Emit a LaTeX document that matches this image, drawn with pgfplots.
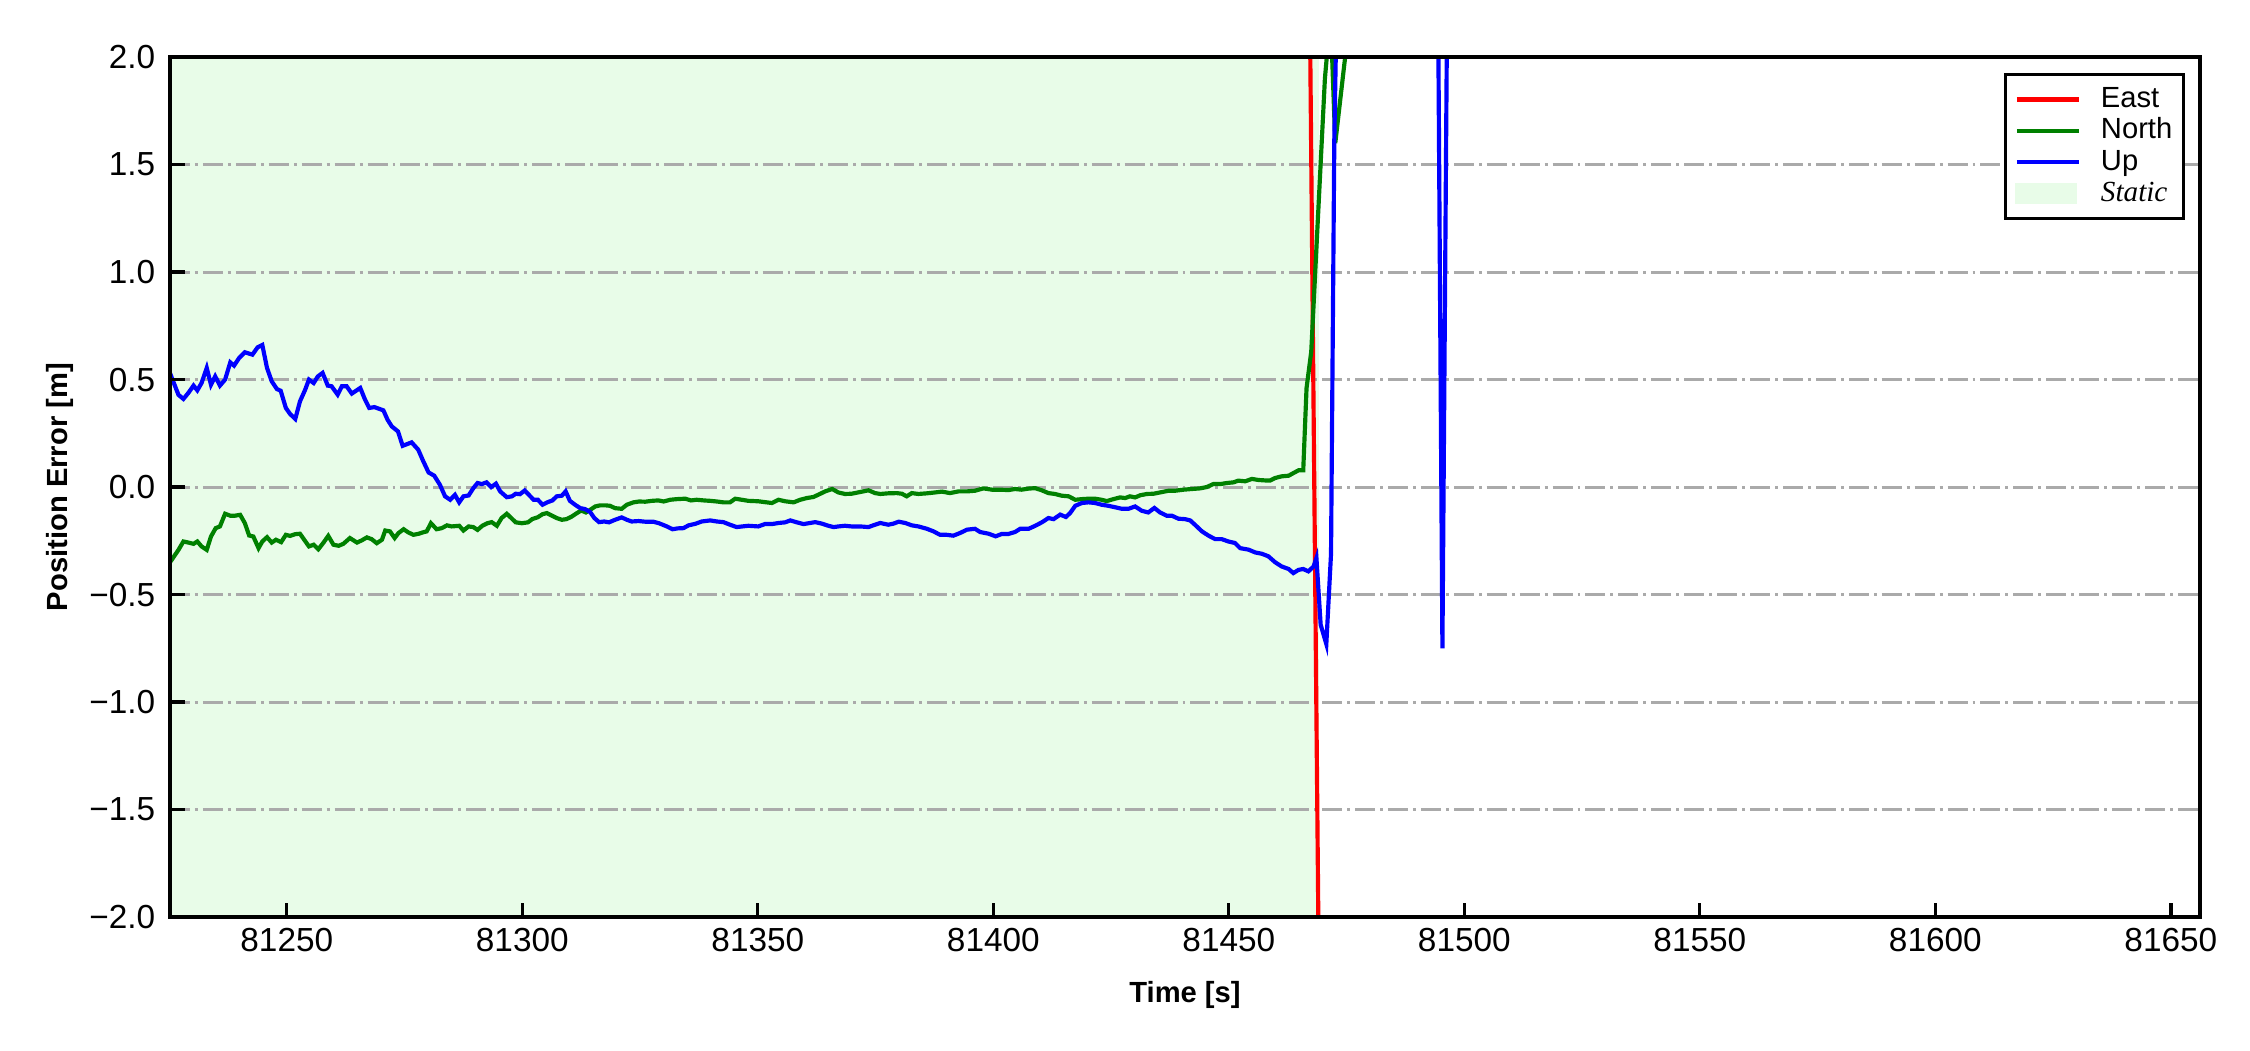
\documentclass[border=0pt]{standalone}
\usepackage{pgfplots}
\pgfplotsset{compat=1.18}
\usepackage{fontspec}
\setmainfont{Liberation Sans}
\newfontfamily\timesfont{Liberation Serif}
\definecolor{staticgreen}{RGB}{232,252,232}
\definecolor{gridgray}{RGB}{170,170,170}
\definecolor{mplgreen}{RGB}{0,128,0}
\definecolor{mplred}{RGB}{255,0,0}
\definecolor{mplblue}{RGB}{0,0,255}
\begin{document}
\begin{tikzpicture}
\useasboundingbox (-40.8pt,-31.9pt) rectangle (499.2pt,220.1pt);
\begin{axis}[
  at={(0pt,0pt)}, anchor=south west,
  scale only axis, width=487.2pt, height=206.4pt,
  xmin=81225.2, xmax=81656.2, ymin=-2, ymax=2,
  axis on top,
  axis line style={line width=0.8pt, black},
  tick align=inside, xtick pos=bottom, ytick pos=left,
  major tick length=3.5pt,
  tick style={black, line width=0.8pt},
  scaled ticks=false,
  xtick={81250,81300,81350,81400,81450,81500,81550,81600,81650},
  xticklabels={81250,81300,81350,81400,81450,81500,81550,81600,81650},
  ytick={-2,-1.5,-1,-0.5,0,0.5,1,1.5,2},
  yticklabels={−2.0,−1.5,−1.0,−0.5,0.0,0.5,1.0,1.5,2.0},
  ticklabel style={font=\fontsize{8}{9.6}\selectfont},
  xticklabel style={yshift=0.9pt},
  yticklabel style={xshift=0pt},
  xlabel={Time [s]}, ylabel={Position Error [m]},
  label style={font=\fontsize{7}{8.4}\selectfont\bfseries},
  xlabel style={at={(axis description cs:0.5,-0.0901)}, anchor=center},
  ylabel style={at={(axis description cs:-0.0544,0.5)}, anchor=center},
  legend style={at={(axis description cs:0.9926,0.9816)}, anchor=north east,
    draw=black, line width=0.7pt, fill=white, inner xsep=2.2pt, inner ysep=2.3pt,
    row sep=0pt, column sep=4.2pt, font=\fontsize{7}{8}\selectfont,
    nodes={inner sep=0.5pt, text height=5.2pt, text depth=1.3pt}},
  legend cell align=left,
  legend image code/.code={\draw[#1, line width=1pt] (0pt,0pt) -- (15pt,0pt);},
  gridline/.style={gridgray, line width=0.7pt, dash pattern=on 4.8pt off 1.2pt on 0.7pt off 1.2pt, forget plot},
]
\addplot[fill=staticgreen, draw=none, forget plot]
  coordinates {(81225.2,-2) (81469.1,-2) (81469.1,2) (81225.2,2)};
\addplot[gridline] coordinates {(81225.2,-1.5) (81656.2,-1.5)};
\addplot[gridline] coordinates {(81225.2,-1.0) (81656.2,-1.0)};
\addplot[gridline] coordinates {(81225.2,-0.5) (81656.2,-0.5)};
\addplot[gridline] coordinates {(81225.2,0.0) (81656.2,0.0)};
\addplot[gridline] coordinates {(81225.2,0.5) (81656.2,0.5)};
\addplot[gridline] coordinates {(81225.2,1.0) (81656.2,1.0)};
\addplot[gridline] coordinates {(81225.2,1.5) (81656.2,1.5)};

\addplot[mplred, line width=1pt] coordinates {
(81225.2,4) (81466.45,4) (81469.85,-4) (81656.2,-4)};
\addlegendentry{East}

\addplot[mplgreen, line width=1pt] coordinates {
(81225.2,-0.35) (81227.0,-0.292) (81228.05,-0.253) (81229.1,-0.258) (81230.2,-0.264)
(81231.0,-0.253) (81231.9,-0.276) (81233.0,-0.292) (81233.9,-0.230) (81234.9,-0.191)
(81235.8,-0.183) (81236.9,-0.124) (81238.0,-0.133) (81239.0,-0.133) (81240.1,-0.129)
(81241.1,-0.168) (81242.0,-0.225) (81242.9,-0.230) (81244.0,-0.284) (81244.8,-0.253)
(81245.8,-0.233) (81246.8,-0.258) (81247.7,-0.245) (81248.8,-0.256) (81249.8,-0.222)
(81250.7,-0.227) (81251.8,-0.219) (81252.8,-0.217) (81253.7,-0.245) (81254.7,-0.276)
(81255.7,-0.268) (81256.7,-0.289) (81257.8,-0.258) (81258.8,-0.227) (81259.9,-0.268)
(81261.0,-0.273) (81262.0,-0.264) (81263.4,-0.237) (81264.9,-0.258) (81265.9,-0.248)
(81267.0,-0.234) (81268.0,-0.242) (81269.1,-0.261) (81270.2,-0.245) (81270.9,-0.202)
(81271.9,-0.206) (81272.9,-0.237) (81273.7,-0.214) (81274.8,-0.196) (81275.8,-0.211)
(81276.9,-0.222) (81278.0,-0.217) (81279.0,-0.210) (81279.7,-0.206) (81280.6,-0.168)
(81281.8,-0.196) (81282.9,-0.191) (81284.0,-0.178) (81285.0,-0.183) (81286.6,-0.180)
(81287.5,-0.202) (81288.6,-0.183) (81289.6,-0.186) (81290.5,-0.199) (81291.5,-0.180)
(81292.6,-0.168) (81293.5,-0.163) (81294.6,-0.180) (81295.6,-0.144) (81296.7,-0.124)
(81297.8,-0.147) (81298.6,-0.164) (81299.9,-0.168) (81301.2,-0.164) (81302.1,-0.149)
(81303.3,-0.140) (81304.3,-0.126) (81305.2,-0.121) (81306.3,-0.133) (81307.3,-0.144)
(81308.4,-0.152) (81309.4,-0.149) (81310.5,-0.137) (81311.6,-0.121) (81312.5,-0.109)
(81313.5,-0.118) (81314.4,-0.106) (81315.5,-0.090) (81316.5,-0.085) (81317.7,-0.085)
(81318.6,-0.087) (81319.7,-0.098) (81321.1,-0.101) (81322.2,-0.082) (81323.6,-0.071)
(81324.8,-0.067) (81326.1,-0.068) (81327.5,-0.064) (81328.9,-0.062) (81330.0,-0.067)
(81331.4,-0.059) (81332.8,-0.056) (81334.6,-0.054) (81335.8,-0.062) (81337.0,-0.059)
(81338.5,-0.062) (81339.9,-0.064) (81341.3,-0.067) (81342.7,-0.071) (81344.1,-0.071)
(81345.2,-0.054) (81346.6,-0.059) (81348.0,-0.064) (81350.1,-0.066) (81351.5,-0.070)
(81353.0,-0.074) (81354.4,-0.059) (81355.8,-0.066) (81357.6,-0.071) (81359.0,-0.059)
(81360.4,-0.051) (81361.8,-0.046) (81362.9,-0.035) (81364.3,-0.020) (81365.8,-0.009)
(81367.1,-0.025) (81368.5,-0.032) (81369.9,-0.031) (81371.7,-0.023) (81373.5,-0.015)
(81374.9,-0.028) (81376.0,-0.032) (81377.7,-0.029) (81379.5,-0.028) (81380.6,-0.031)
(81381.6,-0.043) (81382.7,-0.028) (81384.1,-0.032) (81385.9,-0.029) (81387.6,-0.025)
(81389.1,-0.021) (81390.8,-0.028) (81392.6,-0.020) (81394.4,-0.020) (81396.1,-0.017)
(81397.9,-0.006) (81399.7,-0.012) (81401.4,-0.012) (81403.2,-0.014) (81404.6,-0.009)
(81406.0,-0.012) (81407.5,-0.007) (81408.9,-0.005) (81410.3,-0.015) (81411.7,-0.028)
(81413.1,-0.032) (81414.5,-0.040) (81416.0,-0.043) (81417.4,-0.059) (81418.8,-0.056)
(81420.2,-0.054) (81421.6,-0.054) (81423.0,-0.059) (81424.1,-0.065) (81425.5,-0.056)
(81426.9,-0.048) (81428.0,-0.051) (81429.0,-0.043) (81430.1,-0.048) (81431.2,-0.038)
(81432.6,-0.032) (81434.0,-0.031) (81435.4,-0.025) (81437.2,-0.017) (81438.6,-0.017)
(81440.4,-0.012) (81442.1,-0.009) (81443.9,-0.006) (81445.3,0.000) (81446.7,0.014)
(81448.2,0.014) (81449.6,0.019) (81451.0,0.022) (81452.0,0.030) (81453.5,0.027)
(81454.9,0.038) (81456.3,0.033) (81457.7,0.031) (81458.8,0.031) (81459.8,0.042)
(81461.2,0.050) (81462.7,0.053) (81463.7,0.065) (81464.8,0.078) (81465.8,0.078)
(81466.5,0.46) (81467.5,0.63) (81470.4,1.90) (81471.6,2.20) (81472.6,1.60)
(81474.7,2.00) (81476.0,2.60) (81656.2,3.0)};
\addlegendentry{North}

\addplot[mplblue, line width=1pt] coordinates {
(81225.2,0.53) (81227.0,0.429) (81228.05,0.410) (81229.1,0.438) (81230.2,0.472)
(81231.0,0.450) (81231.9,0.484) (81233.0,0.554) (81233.9,0.476) (81234.8,0.515)
(81235.8,0.472) (81236.9,0.500) (81238.0,0.580) (81238.8,0.565) (81239.9,0.601)
(81241.1,0.627) (81242.7,0.616) (81243.8,0.650) (81244.8,0.661) (81245.8,0.554)
(81246.8,0.492) (81247.9,0.456) (81248.7,0.448) (81249.8,0.368) (81250.7,0.340)
(81251.8,0.317) (81252.8,0.399) (81253.9,0.453) (81254.7,0.500) (81255.7,0.484)
(81256.6,0.515) (81257.6,0.531) (81258.7,0.472) (81259.5,0.469) (81260.8,0.430)
(81261.7,0.469) (81262.7,0.469) (81263.8,0.435) (81265.6,0.461) (81266.6,0.407)
(81267.5,0.368) (81268.6,0.372) (81270.5,0.357) (81271.4,0.313) (81272.3,0.282)
(81273.6,0.259) (81274.6,0.192) (81276.5,0.208) (81277.9,0.174) (81279.0,0.119)
(81280.1,0.068) (81281.3,0.053) (81282.5,0.011) (81283.6,-0.043) (81284.7,-0.059)
(81285.7,-0.036) (81286.6,-0.071) (81287.5,-0.043) (81288.6,-0.039) (81289.6,-0.005)
(81290.5,0.019) (81291.4,0.014) (81292.4,0.022) (81293.4,0.000) (81294.4,0.016)
(81295.3,-0.020) (81296.7,-0.047) (81297.8,-0.043) (81298.6,-0.031) (81299.5,-0.033)
(81300.5,-0.016) (81301.4,-0.036) (81302.4,-0.059) (81303.3,-0.059) (81304.3,-0.082)
(81305.4,-0.070) (81306.4,-0.062) (81307.3,-0.043) (81308.4,-0.040) (81309.2,-0.020)
(81310.1,-0.064) (81311.2,-0.082) (81312.3,-0.098) (81313.3,-0.102) (81314.4,-0.116)
(81315.3,-0.144) (81316.3,-0.163) (81317.4,-0.160) (81318.4,-0.164) (81319.7,-0.152)
(81321.1,-0.141) (81322.2,-0.152) (81323.2,-0.160) (81324.7,-0.158) (81326.1,-0.161)
(81327.8,-0.161) (81329.0,-0.168) (81330.7,-0.183) (81331.9,-0.196) (81333.0,-0.192)
(81334.2,-0.191) (81335.3,-0.178) (81336.7,-0.171) (81338.1,-0.160) (81339.9,-0.155)
(81341.3,-0.160) (81342.7,-0.163) (81344.1,-0.175) (81345.5,-0.186) (81346.7,-0.183)
(81348.0,-0.180) (81350.1,-0.183) (81351.5,-0.172) (81353.0,-0.172) (81354.4,-0.167)
(81355.8,-0.164) (81356.9,-0.155) (81358.3,-0.164) (81359.7,-0.172) (81361.1,-0.167)
(81362.2,-0.163) (81363.6,-0.170) (81365.0,-0.180) (81366.1,-0.186) (81367.1,-0.183)
(81368.5,-0.180) (81369.9,-0.183) (81371.7,-0.183) (81373.5,-0.186) (81374.5,-0.178)
(81376.0,-0.167) (81377.7,-0.175) (81378.8,-0.170) (81379.9,-0.161) (81381.3,-0.167)
(81382.7,-0.178) (81384.1,-0.183) (81385.9,-0.194) (81387.3,-0.206) (81388.7,-0.222)
(81390.1,-0.222) (81391.5,-0.226) (81392.9,-0.214) (81394.4,-0.198) (81396.1,-0.194)
(81397.2,-0.209) (81399.0,-0.217) (81400.5,-0.229) (81401.8,-0.218) (81403.2,-0.218)
(81404.6,-0.209) (81405.7,-0.194) (81407.5,-0.194) (81408.9,-0.180) (81410.3,-0.164)
(81411.7,-0.144) (81412.8,-0.149) (81414.2,-0.128) (81415.4,-0.139) (81416.3,-0.121)
(81417.4,-0.087) (81418.8,-0.074) (81420.2,-0.071) (81421.6,-0.074) (81423.0,-0.082)
(81424.4,-0.087) (81425.9,-0.094) (81427.3,-0.101) (81428.7,-0.101) (81430.1,-0.090)
(81431.5,-0.110) (81432.9,-0.118) (81434.2,-0.097) (81435.4,-0.118) (81436.8,-0.133)
(81437.9,-0.133) (81439.3,-0.147) (81440.7,-0.149) (81441.8,-0.155) (81442.8,-0.175)
(81444.3,-0.206) (81445.7,-0.226) (81447.1,-0.242) (81448.5,-0.242) (81449.9,-0.253)
(81451.3,-0.260) (81452.4,-0.284) (81454.2,-0.291) (81455.6,-0.304) (81457.0,-0.310)
(81458.4,-0.322) (81459.8,-0.349) (81461.2,-0.369) (81462.7,-0.381) (81463.7,-0.400)
(81464.8,-0.385) (81465.8,-0.381) (81466.9,-0.392) (81468.0,-0.369) (81468.6,-0.330)
(81469.5,-0.640) (81470.7,-0.730) (81471.7,-0.310) (81472.4,1.620) (81473.5,3.0)
(81494.35,2.5) (81495.35,-0.75) (81496.35,2.25) (81497.35,3.0) (81656.2,3.0)};
\addlegendentry{Up}

\addlegendimage{legend image code/.code={\fill[staticgreen] (0pt,-2.2pt) rectangle (14pt,2.2pt);}}
\addlegendentry{{\timesfont\itshape Static}}
\end{axis}
\end{tikzpicture}
\end{document}
